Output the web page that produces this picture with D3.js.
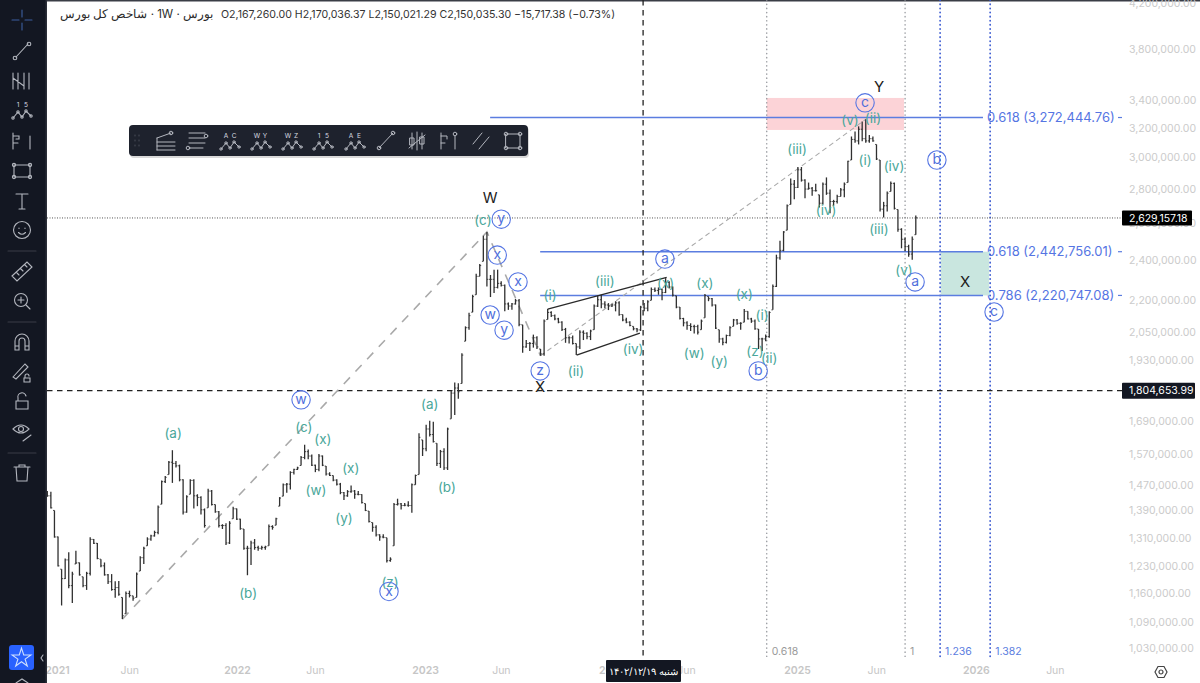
<!DOCTYPE html>
<html>
<head>
<meta charset="utf-8">
<script src="https://cdn.jsdelivr.net/npm/d3@7"></script>
<style>
  html, body { margin: 0; padding: 0; background: #fff; overflow: hidden; }
  text { font-family: Inter, "Noto Sans", sans-serif; }
</style>
</head>
<body>
<svg id="chart" width="1200" height="683"></svg>
<script>
// weekly bars, values in thousands
const highs = [
  1450,1448,1390,1313,1223,1252,1269,1216,1273,1241,1203,1216,1311,1306,1295,1250,1241,1210,1210,1191,
  1192,1150,1165,1167,1154,1214,1258,1284,1311,1318,1330,1405,1484,1498,1548,1585,1548,1536,1488,1437,
  1488,1488,1440,1434,1396,1457,1453,1408,1388,1349,1352,1358,1401,1396,1365,1335,1287,1301,1306,1287,
  1287,1287,1348,1346,1368,1431,1474,1476,1514,1522,1529,1565,1604,1587,1570,1536,1572,1567,1531,1511,
  1500,1488,1476,1447,1453,1468,1453,1450,1440,1411,1388,1354,1346,1320,1320,1310,1255,1413,1426,1413,
  1413,1418,1474,1503,1645,1621,1675,1690,1686,1609,1586,1592,1665,1804,1837,1834,1958,2076,2138,2224,
  2328,2378,2531,2550,2322,2349,2349,2290,2274,2187,2184,2204,2204,2083,2015,2006,2039,2032,1976,2107,
  2156,2145,2130,2115,2099,2069,2032,2035,2000,2058,2058,2049,2061,2177,2219,2224,2193,2184,2181,2193,
  2193,2130,2115,2099,2076,2069,2171,2184,2197,2260,2260,2260,2255,2306,2290,2265,2219,2165,2115,2099,
  2090,2083,2083,2107,2228,2216,2208,2177,2061,2025,2039,2076,2110,2110,2095,2156,2145,2115,2107,2064,
  2025,2039,2145,2274,2427,2502,2555,2708,2866,2856,2938,2938,2860,2840,2812,2832,2765,2840,2872,2797,
  2735,2765,2806,2840,2979,3140,3175,3210,3245,3260,3150,3140,3086,2983,2723,2785,2846,2840,2678,2571,
  2520,2480,2525,2643
];
const lows = [
  1432,1396,1310,1230,1130,1197,1173,1136,1237,1206,1176,1169,1206,1292,1250,1228,1206,1184,1167,1149,
  1154,1097,1110,1150,1142,1150,1218,1237,1287,1301,1313,1320,1409,1476,1503,1476,1526,1481,1378,1383,
  1440,1396,1403,1378,1339,1398,1405,1383,1339,1335,1289,1292,1365,1361,1333,1276,1207,1234,1276,1273,
  1276,1276,1287,1333,1346,1403,1434,1445,1455,1503,1518,1533,1554,1554,1531,1511,1514,1531,1500,1498,
  1481,1468,1440,1422,1432,1445,1426,1437,1411,1388,1354,1327,1313,1301,1308,1241,1243,1287,1405,1393,
  1403,1401,1383,1470,1503,1565,1581,1633,1612,1531,1525,1518,1518,1697,1711,1773,1833,2010,2061,2141,
  2224,2315,2392,2265,2213,2232,2255,2265,2145,2152,2152,2177,2076,1960,1982,1968,1982,1976,1947,1947,
  2107,2119,2104,2090,2055,2003,2000,1996,1950,1976,2015,2018,2015,2061,2165,2159,2159,2151,2165,2145,
  2125,2099,2090,2076,2058,2049,2055,2145,2145,2197,2238,2224,2197,2232,2255,2216,2159,2107,2076,2061,
  2055,2044,2039,2061,2115,2193,2168,2064,2003,1992,2000,2032,2076,2083,2061,2095,2107,2092,2061,1976,
  1968,2010,2025,2152,2262,2400,2445,2560,2708,2738,2806,2846,2745,2797,2760,2785,2690,2708,2765,2657,
  2700,2714,2755,2751,2840,2983,3098,3086,3108,3098,3098,3104,2983,2666,2632,2666,2785,2678,2552,2461,
  2445,2416,2400,2535
];
const closes = [
  1435,1398,1312,1232,1198,1248,1180,1210,1240,1208,1180,1212,1305,1294,1252,1232,1208,1190,1170,1175,
  1158,1105,1160,1155,1148,1210,1254,1280,1306,1315,1325,1400,1480,1494,1544,1540,1532,1486,1385,1432,
  1484,1435,1430,1392,1345,1450,1408,1386,1345,1345,1295,1352,1395,1364,1336,1280,1280,1295,1282,1280,
  1282,1284,1342,1340,1365,1428,1470,1472,1510,1520,1525,1560,1580,1565,1534,1520,1565,1534,1505,1500,
  1485,1472,1445,1435,1448,1450,1440,1439,1414,1390,1357,1340,1318,1312,1311,1246,1250,1408,1410,1405,
  1406,1405,1470,1500,1630,1590,1660,1640,1615,1540,1580,1525,1660,1795,1815,1800,1950,2070,2125,2215,
  2315,2370,2510,2300,2300,2260,2280,2270,2180,2170,2180,2195,2085,1985,2000,2000,2025,1985,1955,2100,
  2140,2125,2110,2095,2062,2025,2025,2000,1985,2050,2045,2030,2055,2170,2200,2180,2175,2170,2175,2185,
  2130,2105,2095,2080,2065,2060,2165,2160,2190,2250,2245,2250,2235,2285,2262,2222,2165,2112,2092,2080,
  2075,2075,2050,2100,2220,2205,2175,2068,2020,2005,2035,2070,2105,2090,2090,2145,2110,2100,2065,2020,
  2020,2030,2140,2265,2410,2450,2550,2700,2830,2810,2920,2855,2800,2805,2790,2790,2715,2830,2775,2725,
  2725,2755,2795,2830,2975,3120,3110,3190,3125,3110,3125,3110,2990,2680,2700,2775,2835,2685,2565,2510,
  2470,2430,2510,2630
];

const yTicks = [4200,3800,3400,3200,3000,2800,2600,2400,2200,2050,1930,1690,1570,1470,1390,1310,1230,1160,1090,1030];
const xTickBars = [2.7,22.9,53.1,74.9,105.7,126.9,158,178.7,209.8,231.9,259.8,281.9];
const xTickLabels = ["2021","Jun","2022","Jun","2023","Jun","2024","Jun","2025","Jun","2026","Jun"];

// [text, bar, price]
const greenLabels = [
  ["(a)",35.2,1643],["(b)",56.2,1160],["(c)",71.8,1665],["(x)",77.1,1621],["(w)",75.2,1451],
  ["(x)",84.9,1523],["(y)",83,1365],["(z)",95.9,1188],["(a)",107,1750],["(b)",111.8,1460],
  ["(c)",121.9,2617],["(i)",140.7,2222],["(ii)",147.9,1880],["(iii)",156,2287],["(iv)",163.9,1976],
  ["(x)",173,2280],["(w)",181,1955],["(x)",184,2278],["(y)",188,1925],["(x)",195,2225],
  ["(z)",198,1967],["(i)",200,2128],["(ii)",202,1937],["(iii)",209.8,3050],["(iv)",217.9,2675],
  ["(v)",224.6,3250],["(ii)",231,3265],["(i)",228.8,2983],["(iv)",236.9,2944],["(iii)",232.7,2566],
  ["(v)",239.7,2347]
];
const circleLabels = [
  ["w",71,1769],["x",95.6,1165],["y",127,2622],["x",125.9,2425],["x",131.7,2287],["w",123.9,2128],
  ["y",127.8,2059],["z",137.9,1884],["a",172.8,2404],["b",198.9,1884],["c",228.8,3379],["b",248.9,2983],
  ["a",242.8,2287],["c",264.9,2142]
];
const blackLabels = [["W",123.9,2750],["X",137.9,1820],["Y",232.7,3498],["X",256.8,2287]];

// [label, price, first bar, last bar]
const fibLevels = [
  ["0.618 (3,272,444.76)",3272.44476,123.9,261.8],
  ["0.618 (2,442,756.01)",2442.75601,137.9,261.8],
  ["0.786 (2,220,747.08)",2220.74708,137.9,261.8]
];
// [label, bar, colour kind]
const timeFibs = [["0.618",201.3,"grey"],["1",240,"grey"],["1.236",249.8,"blue"],["1.382",263.8,"blue"]];
const zigzagBars = [21,123,138,229];
const zigzagKinds = ["low","high","low","high"];
const channelTop = [[140,2156],[173.3,2310]];
const channelBottom = [[148.1,1950],[165.8,2046]];
const crosshairBar = 166.7;
const crosshairPrice = 1804.65399;
const lastPrice = 2629.15718;
const pinkBox = [201.3,239.7,3415,3185];
const tealBox = [250,263.5,2442.75601,2220.74708];

const svg = d3.select("#chart");
const x = d3.scaleLinear().domain([0,243]).range([47.3,915.8]);
const y = d3.scaleLog().domain([1030,4200]).range([648,3]);
const money = v => d3.format(",.2f")(v*1000);

svg.append("rect").attr("width",1200).attr("height",683).attr("fill","#fff");
svg.append("rect").attr("width",1200).attr("height",1.5).attr("fill","#3a3d46");

function box(b, colour) {
  svg.append("rect")
    .attr("x",x(b[0])).attr("y",y(b[2]))
    .attr("width",x(b[1])-x(b[0])).attr("height",y(b[3])-y(b[2]))
    .attr("fill",colour);
}
box(pinkBox,"#fcd3d7");

// fib level texts go under the teal box, it clips their first digit
fibLevels.forEach(d => {
  svg.append("text").attr("x",987).attr("y",y(d[1])+4.5)
    .attr("font-size",13).attr("fill","#5575e3").text(d[0]);
  svg.append("line").attr("x1",1118).attr("x2",1122).attr("y1",y(d[1])).attr("y2",y(d[1]))
    .attr("stroke","#5b7de0").attr("stroke-width",1.2);
});
box(tealBox,"#c9e6df");

// time fibs
timeFibs.forEach(d => {
  const blue = d[2] === "blue";
  svg.append("line")
    .attr("x1",x(d[1])).attr("x2",x(d[1])).attr("y1",0).attr("y2",657)
    .attr("stroke",blue ? "#3152cf" : "#8a8d93")
    .attr("stroke-width",blue ? 1.6 : 1.2)
    .attr("stroke-linecap","round")
    .attr("stroke-dasharray","0.5 3.6");
  svg.append("text")
    .attr("x",x(d[1])+5).attr("y",655)
    .attr("font-size",10.5)
    .attr("fill",blue ? "#5b7de0" : "#9a9a9a")
    .text(d[0]);
});

// price fibs
fibLevels.forEach(d => {
  svg.append("line")
    .attr("x1",x(d[2])).attr("x2",x(d[3]))
    .attr("y1",y(d[1])).attr("y2",y(d[1]))
    .attr("stroke","#5b7de0").attr("stroke-width",1.4);
});

// last price + crosshair
svg.append("line")
  .attr("x1",47).attr("x2",1122).attr("y1",y(lastPrice)).attr("y2",y(lastPrice))
  .attr("stroke","#555").attr("stroke-width",1).attr("stroke-dasharray","1 1.5");
svg.append("line")
  .attr("x1",47).attr("x2",1122).attr("y1",y(crosshairPrice)).attr("y2",y(crosshairPrice))
  .attr("stroke","#222").attr("stroke-width",1.3).attr("stroke-dasharray","5.5 4.5");
svg.append("line")
  .attr("x1",x(crosshairBar)).attr("x2",x(crosshairBar)).attr("y1",0).attr("y2",660)
  .attr("stroke","#222").attr("stroke-width",1.3).attr("stroke-dasharray","5.5 4.5");

// zigzag between the main pivots
const zigzag = zigzagBars.map((b,i) => [b, zigzagKinds[i] === "low" ? lows[b] : highs[b]]);
const line = d3.line().x(d => x(d[0])).y(d => y(d[1]));
svg.append("path").attr("d",line(zigzag.slice(0,3))).attr("fill","none")
  .attr("stroke","#a9a9a9").attr("stroke-width",1.6).attr("stroke-dasharray","9 8");
svg.append("path").attr("d",line(zigzag.slice(2))).attr("fill","none")
  .attr("stroke","#a9a9a9").attr("stroke-width",1.1).attr("stroke-dasharray","5 3.5");

// bars
const bars = svg.append("g").attr("stroke","#303030");
highs.forEach((h,i) => {
  const cx = x(i);
  const prev = i > 0 ? closes[i-1] : closes[i];
  const open = Math.max(lows[i], Math.min(h, prev));
  bars.append("line").attr("x1",cx).attr("x2",cx).attr("y1",y(h)).attr("y2",y(lows[i])).attr("stroke-width",1.3);
  bars.append("line").attr("x1",cx-1.4).attr("x2",cx).attr("y1",y(open)).attr("y2",y(open)).attr("stroke-width",0.9);
  bars.append("line").attr("x1",cx).attr("x2",cx+1.4).attr("y1",y(closes[i])).attr("y2",y(closes[i])).attr("stroke-width",0.9);
});

// channel
[channelTop,channelBottom].forEach(c => {
  svg.append("path").attr("d",line(c)).attr("fill","none").attr("stroke","#2a2a2a").attr("stroke-width",1.3);
});

// wave labels
svg.append("g").selectAll("text").data(greenLabels).join("text")
  .attr("x",d => x(d[1])).attr("y",d => y(d[2])+4.5)
  .attr("text-anchor","middle").attr("font-size",13.5).attr("fill","#4aa79a")
  .text(d => d[0]);

const circles = svg.append("g").selectAll("g").data(circleLabels).join("g")
  .attr("transform",d => `translate(${x(d[1])},${y(d[2])})`);
circles.append("circle").attr("r",9.2).attr("fill","none").attr("stroke","#5575e3").attr("stroke-width",1.1);
circles.append("text").attr("y",4.2).attr("text-anchor","middle").attr("font-size",14).attr("fill","#4f6fdc").text(d => d[0]);

svg.append("g").selectAll("text").data(blackLabels).join("text")
  .attr("x",d => x(d[1])).attr("y",d => y(d[2])+5.5)
  .attr("text-anchor","middle").attr("font-size",15).attr("fill","#1c1c1c")
  .text(d => d[0]);

// axes
const yAxis = svg.append("g").attr("transform","translate(1129,0)")
  .call(d3.axisRight(y).tickValues(yTicks).tickFormat(money).tickSize(0));
yAxis.select(".domain").remove();
yAxis.selectAll("text").attr("x",0).attr("fill","#cbcbcb").attr("font-size",10.5).attr("font-family","Inter, sans-serif");

const xAxis = svg.append("g").attr("transform","translate(0,663)")
  .call(d3.axisBottom(x).tickValues(xTickBars).tickFormat((d,i) => xTickLabels[i]).tickSize(0));
xAxis.select(".domain").remove();
xAxis.selectAll("text").attr("y",4).attr("fill","#c6c6c6").attr("font-size",10.5).attr("font-family","Inter, sans-serif")
  .attr("font-weight",(d,i) => xTickLabels[i] === "Jun" ? 400 : 600);

// price tags
function tag(px, py, w, h, txt, fill) {
  svg.append("rect").attr("x",px).attr("y",py).attr("width",w).attr("height",h).attr("rx",1).attr("fill",fill);
  svg.append("text").attr("x",px+7).attr("y",py+h/2+3.8).attr("fill","#fff").attr("font-size",10.5).text(txt);
}
tag(1122,y(lastPrice)-7.5,70,15,money(lastPrice),"#000");
tag(1122,y(crosshairPrice)-8,73,16,money(crosshairPrice),"#131722");

// date tag
svg.append("rect").attr("x",606).attr("y",660).attr("width",75).attr("height",22).attr("rx",1).attr("fill","#131722");
svg.append("text").attr("x",643.5).attr("y",675).attr("text-anchor","middle").attr("direction","rtl")
  .attr("fill","#fff").attr("font-size",10).attr("font-family","DejaVu Sans")
  .text("شنبه ۱۴۰۲/۱۲/۱۹");

// header
svg.append("text").attr("x",213).attr("y",18).attr("text-anchor","start").attr("direction","rtl")
  .attr("font-size",11.5).attr("fill","#2a2a2a").attr("font-family","DejaVu Sans")
  .text("بورس · 1W · شاخص کل بورس");
svg.append("text").attr("x",221).attr("y",18).attr("font-size",10.6).attr("fill","#333")
  .text("O2,167,260.00 H2,170,036.37 L2,150,021.29 C2,150,035.30 −15,717.38 (−0.73%)");

// settings gear
const gear = svg.append("g").attr("transform","translate(1161,672)").attr("fill","none").attr("stroke","#444").attr("stroke-width",1.2);
gear.append("path").attr("d","M-3,-5.5 L3,-5.5 L6,0 L3,5.5 L-3,5.5 L-6,0 Z");
gear.append("circle").attr("r",2);

// left tool strip
svg.append("rect").attr("width",47).attr("height",683).attr("fill","#131722");
svg.append("rect").attr("x",45.5).attr("width",1.5).attr("height",683).attr("fill","#2b2e38");
const side = svg.append("g").attr("fill","none").attr("stroke","#b4b7bf").attr("stroke-width",1.1).attr("stroke-linecap","round");
function icon(parent, cx, cy, d, colour) {
  parent.append("path").attr("d",d).attr("transform",`translate(${cx},${cy})`).attr("stroke",colour || null);
}
function dot(parent, cx, cy, r) {
  parent.append("circle").attr("cx",cx).attr("cy",cy).attr("r",r || 1.8);
}
function wave(parent, cx, cy, a, b) {
  icon(parent,cx,cy,"M-9,6 L-4,0 L0,5 L4,-1 L9,4");
  [[-9,6],[-4,0],[0,5],[4,-1],[9,4]].forEach(p => dot(parent,cx+p[0],cy+p[1],1.2));
  parent.append("text").attr("x",cx-4).attr("y",cy-5).attr("text-anchor","middle").attr("font-size",6.5).attr("fill","#d8dae0").attr("stroke","none").text(a);
  parent.append("text").attr("x",cx+4).attr("y",cy-5).attr("text-anchor","middle").attr("font-size",6.5).attr("fill","#d8dae0").attr("stroke","none").text(b);
}
icon(side,22,20,"M-10,0 L-3,0 M3,0 L10,0 M0,-10 L0,-3 M0,3 L0,10","#3d5f9f");
icon(side,22,51,"M-6,6 L6,-7"); dot(side,15,58); dot(side,29,44);
icon(side,22,81,"M-9,-8 L-9,8 M-4,-8 L-4,8 M2,-8 L2,8 M7,-8 L7,8 M-9,-3 L2,5");
wave(side,22,112,"1","5");
icon(side,22,141,"M-9,-8 L-9,8 M-9,-5 L-3,-5 L-3,-2 L-6,-2 M-9,2 L-4,2 M8,-5 L8,8");
icon(side,22,171,"M-8,-6 L8,-6 L8,6 L-8,6 Z");
[[14,165],[30,165],[14,177],[30,177]].forEach(p => dot(side,p[0],p[1],1.6));
icon(side,22,201,"M-6,-7 L6,-7 M0,-7 L0,8 M-3,8 L3,8");
side.append("circle").attr("cx",22).attr("cy",230).attr("r",8.5);
icon(side,22,230,"M-3.5,2.5 Q0,6 3.5,2.5 M-3,-2 L-3,-1.5 M3,-2 L3,-1.5");
side.append("line").attr("x1",8).attr("x2",36).attr("y1",251).attr("y2",251).attr("stroke","#3a3d46");
icon(side,22,271,"M-10,5 L5,-9 L10,-4 L-5,10 Z M-5,2 L-3,4 M-1,-2 L1,0 M3,-6 L5,-4");
side.append("circle").attr("cx",21).attr("cy",300).attr("r",6.5);
icon(side,21,300,"M-3,0 L3,0 M0,-3 L0,3 M5,5 L9,9");
side.append("line").attr("x1",8).attr("x2",36).attr("y1",322).attr("y2",322).attr("stroke","#3a3d46");
icon(side,22,342,"M-7,8 L-7,-1 A7,7 0 0 1 7,-1 L7,8 L3,8 L3,-1 A3,3 0 0 0 -3,-1 L-3,8 Z M-7,4 L-3,4 M3,4 L7,4");
icon(side,20,371,"M-7,6 L5,-7 L8,-4 L-4,8 Z");
icon(side,27,378,"M-3,0 L3,0 L3,4 L-3,4 Z M-2,0 L-2,-2 A2,2 0 0 1 2,-2");
icon(side,22,402,"M-6,-1 L6,-1 L6,7 L-6,7 Z M-4,-1 L-4,-4 A4,4 0 0 1 4,-6");
icon(side,21,429,"M-8,0 Q0,-8 8,0 Q0,8 -8,0 Z");
side.append("circle").attr("cx",21).attr("cy",429).attr("r",2.5);
icon(side,27,438,"M-4,3 L4,-3");
side.append("line").attr("x1",8).attr("x2",36).attr("y1",453).attr("y2",453).attr("stroke","#3a3d46");
icon(side,22,473,"M-8,-6 L8,-6 M-3,-6 L-3,-8 L3,-8 L3,-6 M-6,-6 L-5,8 L5,8 L6,-6");
svg.append("rect").attr("x",9).attr("y",645).attr("width",25).attr("height",25).attr("rx",3).attr("fill","#2962ff");
svg.append("path").attr("transform","translate(21.5,658)").attr("fill","none").attr("stroke","#cfe0ff").attr("stroke-width",1.1)
  .attr("d",d3.symbol(d3.symbolStar,110)());
icon(side,22,683,"M-6,0 L0,-4 L6,0");
icon(side,42,658,"M1,-3 L-1,0 L1,3");

// floating toolbar
svg.append("rect").attr("x",130).attr("y",127).attr("width",399).attr("height",31).attr("rx",4).attr("fill","#000").attr("opacity",0.15);
svg.append("rect").attr("x",129).attr("y",125).attr("width",399).attr("height",31).attr("rx",4).attr("fill","#1e222d");
const tb = svg.append("g").attr("fill","none").attr("stroke","#b4b7bf").attr("stroke-width",1).attr("stroke-linecap","round");
icon(tb,137,141,"M-2,-6 L-2,-5 M2,-6 L2,-5 M-2,-1 L-2,0 M2,-1 L2,0 M-2,4 L-2,5 M2,4 L2,5","#4a4e5a");
icon(tb,166,141,"M-9,-3 L-9,9 M-9,-3 L5,-8 M-9,1 L9,1 M-9,5 L9,5 M-9,9 L9,9"); dot(tb,171,133);
icon(tb,197,141,"M-8,-8 L8,-8 M-8,-3 L8,-3 M-8,2 L8,2 M-8,7 L6,7"); dot(tb,206,136); dot(tb,188,148);
wave(tb,230,143,"A","C");
wave(tb,261,143,"W","Y");
wave(tb,292,143,"W","Z");
wave(tb,323,143,"1","5");
wave(tb,355,143,"A","E");
icon(tb,386,141,"M-7,7 L7,-8"); dot(tb,379,148); dot(tb,393,133);
icon(tb,417,141,"M-5,-8 L-5,8 M0,-9 L0,9 M5,-8 L5,8 M-7,-3 L-3,-3 L-3,4 L-7,4 Z M3,-4 L7,-4 L7,3 L3,3 Z M-8,7 L8,-6");
icon(tb,449,141,"M-8,-8 L-8,8 M-8,-5 L-2,-5 L-2,-2 M-8,2 L-4,2 M6,-5 L6,8"); dot(tb,455,134);
icon(tb,481,141,"M-8,3 L1,-8 M-2,8 L8,-4");
icon(tb,513,141,"M-7,-7 L7,-7 L7,7 L-7,7 Z");
[[506,134],[520,134],[506,148],[520,148]].forEach(p => dot(tb,p[0],p[1]));
</script>
</body>
</html>
